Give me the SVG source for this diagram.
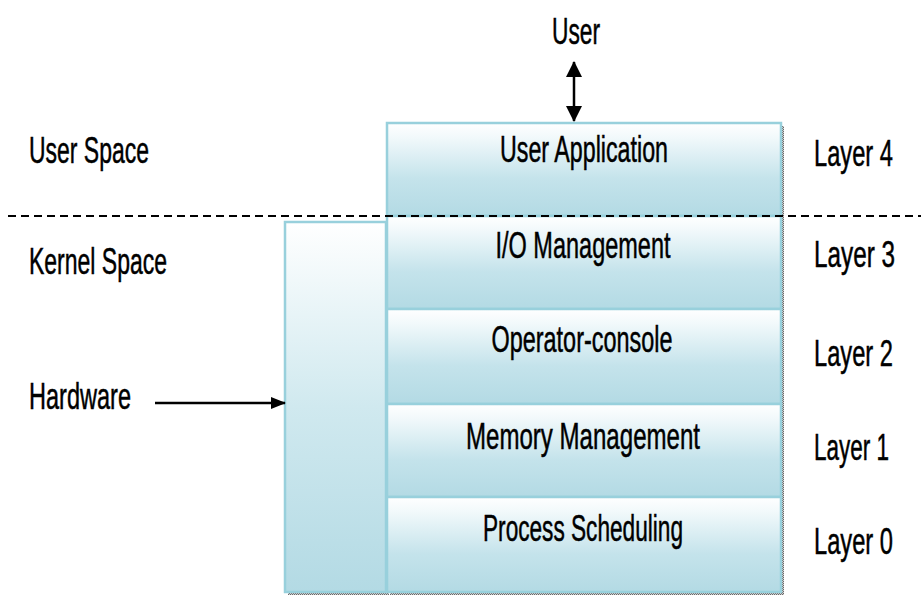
<svg xmlns="http://www.w3.org/2000/svg" width="921" height="597" viewBox="0 0 921 597">
  <defs>
    <linearGradient id="layerFill" x1="0" y1="0" x2="0" y2="1">
      <stop offset="0" stop-color="#ffffff"/>
      <stop offset="0.15" stop-color="#f2f9fb"/>
      <stop offset="0.6" stop-color="#c4e3eb"/>
      <stop offset="1" stop-color="#b3dae4"/>
    </linearGradient>
    <linearGradient id="hwFill" x1="0" y1="0" x2="0" y2="1">
      <stop offset="0" stop-color="#ffffff"/>
      <stop offset="0.5" stop-color="#d0e9ef"/>
      <stop offset="1" stop-color="#b3dae4"/>
    </linearGradient>
    <pattern id="shadowDots" width="2" height="2" patternUnits="userSpaceOnUse">
      <rect width="2" height="2" fill="#d0d0d0"/>
      <rect width="1" height="1" fill="#6a6a6a"/>
      <rect x="1" y="1" width="1" height="1" fill="#6a6a6a"/>
    </pattern>
    <marker id="arrowHead" viewBox="0 0 16 16" refX="15" refY="8" markerWidth="16" markerHeight="16" markerUnits="userSpaceOnUse" orient="auto-start-reverse">
      <path d="M0,0 L16,8 L0,16 z" fill="#000"/>
    </marker>
    <marker id="arrowHeadSmall" viewBox="0 0 15 12" refX="14" refY="6" markerWidth="15" markerHeight="12" markerUnits="userSpaceOnUse" orient="auto">
      <path d="M0,0 L15,6 L0,12 z" fill="#000"/>
    </marker>
  </defs>
  <style>
    text { font-family: "Liberation Sans Narrow", "Liberation Sans", Arial, sans-serif; font-size: 36px; fill: #000; stroke: #000; stroke-width: 0.5; }
    .mid { text-anchor: middle; }
    .end { text-anchor: end; }
    .layer { stroke: #98d0dc; stroke-width: 2.5; fill: url(#layerFill); }
    .hw { stroke: #98d0dc; stroke-width: 2.5; fill: url(#hwFill); }
    .shadow { fill: url(#shadowDots); }
    .conn { stroke: #000; stroke-width: 2.5; fill: none; }
  </style>

  <rect width="921" height="597" fill="#ffffff"/>

  <!-- drop shadows -->
  <rect class="shadow" x="288" y="225" width="101" height="370"/>
  <rect class="shadow" x="390" y="126" width="394" height="469"/>

  <!-- hardware column -->
  <g id="hardware-box">
    <rect class="hw" x="285" y="222" width="101" height="370"/>
  </g>

  <!-- layer stack -->
  <g id="layer4">
    <rect class="layer" x="387" y="123" width="394" height="93"/>
    <text class="mid" x="584" y="162" textLength="168" lengthAdjust="spacingAndGlyphs">User Application</text>
  </g>
  <g id="layer3">
    <rect class="layer" x="387" y="216" width="394" height="93"/>
    <text class="mid" x="583" y="258" textLength="175" lengthAdjust="spacingAndGlyphs">I/O Management</text>
  </g>
  <g id="layer2">
    <rect class="layer" x="387" y="309" width="394" height="95"/>
    <text class="mid" x="582" y="352" textLength="181" lengthAdjust="spacingAndGlyphs">Operator-console</text>
  </g>
  <g id="layer1">
    <rect class="layer" x="387" y="404" width="394" height="93"/>
    <text class="mid" x="583" y="449" textLength="234" lengthAdjust="spacingAndGlyphs">Memory Management</text>
  </g>
  <g id="layer0">
    <rect class="layer" x="387" y="497" width="394" height="95"/>
    <text class="mid" x="583" y="541" textLength="200" lengthAdjust="spacingAndGlyphs">Process Scheduling</text>
  </g>

  <!-- side labels -->
  <g id="user">
    <text class="mid" x="576" y="44" textLength="48" lengthAdjust="spacingAndGlyphs">User</text>
  </g>
  <g id="user-space">
    <text x="29" y="163" textLength="120" lengthAdjust="spacingAndGlyphs">User Space</text>
  </g>
  <g id="kernel-space">
    <text x="29" y="274" textLength="138" lengthAdjust="spacingAndGlyphs">Kernel Space</text>
  </g>
  <g id="hardware">
    <text x="29" y="409" textLength="102" lengthAdjust="spacingAndGlyphs">Hardware</text>
  </g>
  <g id="layer-labels">
    <text class="end" x="893" y="166" textLength="79" lengthAdjust="spacingAndGlyphs">Layer 4</text>
    <text class="end" x="895" y="267" textLength="81" lengthAdjust="spacingAndGlyphs">Layer 3</text>
    <text class="end" x="893" y="366" textLength="79" lengthAdjust="spacingAndGlyphs">Layer 2</text>
    <text class="end" x="889" y="460" textLength="75" lengthAdjust="spacingAndGlyphs">Layer 1</text>
    <text class="end" x="893" y="554" textLength="79" lengthAdjust="spacingAndGlyphs">Layer 0</text>
  </g>

  <!-- connectors -->
  <g id="connectors">
    <line x1="8" y1="216" x2="921" y2="216" stroke="#000" stroke-width="2" stroke-dasharray="8,5"/>
    <line class="conn" x1="574" y1="62" x2="574" y2="121" marker-start="url(#arrowHead)" marker-end="url(#arrowHead)"/>
    <line class="conn" x1="155" y1="403" x2="285" y2="403" marker-end="url(#arrowHeadSmall)"/>
  </g>
</svg>
